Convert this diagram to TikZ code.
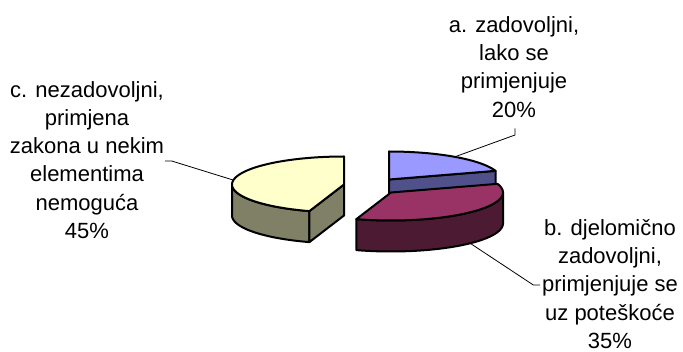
\documentclass[tikz,border=0pt]{standalone}
\usepackage{fontspec}
\setmainfont{Liberation Sans}
\usetikzlibrary{calc}
\definecolor{sliceA}{HTML}{9999FF}
\definecolor{sliceAside}{HTML}{50508A}
\definecolor{sliceB}{HTML}{993366}
\definecolor{sliceBside}{HTML}{4D1A33}
\definecolor{sliceC}{HTML}{FFFFCC}
\definecolor{sliceCside}{HTML}{808066}
\tikzset {face/.style={draw=black,line width=1.5pt,line join=round},
  leader/.style={draw=black,line width=0.6pt},
  piecetext/.style={align=center,font=\fontsize{16.5}{21.2}\selectfont}}

\begin{document}
\begin{tikzpicture}[x=0.75pt,y=-0.75pt]
\useasboundingbox (0,0) rectangle (683,352);

% Place slice centres, top and bottom
\coordinate (Cc) at (344,184.5);
\coordinate (Ccb) at (344,215.5);
\coordinate (Ca) at (389,179.5);
\coordinate (Cab) at (389,210.5);
\coordinate (Cb) at (391,192.5);

% Draw slice c (45%)
\coordinate (c252) at (309.39,211.13);
\coordinate (c252b) at (309.39,242.13);
\path [face,fill=sliceCside] plot[domain=180:252,samples=30] ({344+112*cos(\x)},{184.5-28*sin(\x)})
  -- plot[domain=252:180,samples=30] ({344+112*cos(\x)},{215.5-28*sin(\x)}) -- cycle;
\path [face,fill=sliceCside] (Cc) -- (c252) -- (c252b) -- (Ccb) -- cycle;
\path [face,fill=sliceC] (Cc) -- plot[domain=90:252,samples=50] ({344+112*cos(\x)},{184.5-28*sin(\x)}) -- cycle;

% Draw slice a (20%)
\coordinate (a18) at (495.52,170.85);
\coordinate (a18b) at (495.52,201.85);
\path [face,fill=sliceAside] (Ca) -- (a18) -- (a18b) -- (Cab) -- cycle;
\path [face,fill=sliceA] (Ca) -- plot[domain=18:90,samples=30] ({389+112*cos(\x)},{179.5-28*sin(\x)}) -- cycle;

% Draw slice b (35%)
\path [face,fill=sliceBside] plot[domain=-108:0,samples=40] ({391+112*cos(\x)},{192.5-28*sin(\x)})
  -- plot[domain=0:-108,samples=40] ({391+112*cos(\x)},{223.5-28*sin(\x)}) -- cycle;
\path [face,fill=sliceB] (Cb) -- plot[domain=-108:18,samples=50] ({391+112*cos(\x)},{192.5-28*sin(\x)}) -- cycle;

% Labels
\node[piecetext] (labA) at (514,67) {a. zadovoljni,\\lako se\\primjenjuje\\20\%};
\node[piecetext] (labB) at (610,284) {b. djelomično\\zadovoljni,\\primjenjuje se\\uz poteškoće\\35\%};
\node[piecetext] (labC) at (87,160) {c. nezadovoljni,\\primjena\\zakona u nekim\\elementima\\nemoguća\\45\%};

% Leader lines
\coordinate (a1) at (515,128.3);
\coordinate (a2) at (515,135);
\coordinate (a3) at (454.8,156.85);
\coordinate (b1) at (540,285);
\coordinate (b2) at (533.3,285);
\coordinate (b3) at (470.2,243.3);
\coordinate (c1) at (165,161);
\coordinate (c2) at (171.7,161);
\coordinate (c3) at (233.4,180.1);
\draw [leader] (a1) -- (a2) -- (a3);
\draw [leader] (b1) -- (b2) -- (b3);
\draw [leader] (c1) -- (c2) -- (c3);

\end{tikzpicture}
\end{document}
